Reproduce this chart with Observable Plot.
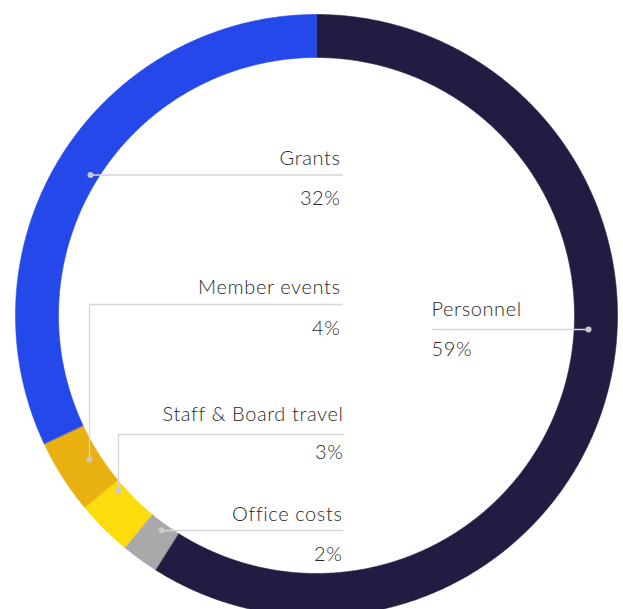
<!DOCTYPE html>
<html><head><meta charset="utf-8">
<script src="https://cdn.jsdelivr.net/npm/d3@7"></script>
<script src="https://cdn.jsdelivr.net/npm/@observablehq/plot@0.6"></script>
<style>
body{margin:0;background:#fff}
svg{display:block}
</style>
</head><body><div id="chart"></div>
<script>
// ---- data ----
const categories = ["Personnel", "Office costs", "Staff & Board travel", "Member events", "Grants"];
const shares = [59, 2, 3, 4, 32];
const pctLabels = ["59%", "2%", "3%", "4%", "32%"];
const colors = ["#211d42", "#a9a9a9", "#fddc0b", "#e9b011", "#2448e9"];

// ---- layout (pixel positions in the 623x609 frame) ----
const CX = 316, CY = 315, R_OUT = 301, R_IN = 258;
const layout = {
  "Personnel":            {anchor: "start", textX: 431, nameY: 315, pctY: 355, path: [[432, 329], [588, 329]], dot: [588, 329]},
  "Office costs":         {anchor: "end",   textX: 342, nameY: 520, pctY: 560, path: [[342, 530], [161, 530]], dot: [161, 530]},
  "Staff & Board travel": {anchor: "end",   textX: 343, nameY: 420, pctY: 458, path: [[343, 434], [118, 434], [118, 490]], dot: [118, 490]},
  "Member events":        {anchor: "end",   textX: 340, nameY: 293, pctY: 334, path: [[342, 304], [89, 304], [89, 459]], dot: [89, 459]},
  "Grants":               {anchor: "end",   textX: 340, nameY: 164, pctY: 204, path: [[342, 174.5], [90, 174.5]], dot: [90, 174.5]}
};

// ---- build ring polygons from the shares ----
const pie = d3.pie().sort(null).value(d => d)(shares);
const ringPts = [];
pie.forEach((s, i) => {
  const n = Math.max(4, Math.ceil((s.endAngle - s.startAngle) / 0.005));
  const outer = d3.range(n + 1).map(k => s.startAngle + (s.endAngle - s.startAngle) * k / n);
  const pts = outer.map(a => [R_OUT * Math.sin(a), -R_OUT * Math.cos(a)])
    .concat(outer.slice().reverse().map(a => [R_IN * Math.sin(a), -R_IN * Math.cos(a)]));
  pts.forEach(([x, y]) => ringPts.push({name: categories[i], x, y}));
});

const rel = ([px, py]) => ({x: px - CX, y: py - CY});
const leaderPts = [];
const dots = [];
const names = [];
const pcts = [];
categories.forEach((c, i) => {
  const L = layout[c];
  L.path.forEach(p => leaderPts.push({name: c, ...rel(p)}));
  dots.push({name: c, ...rel(L.dot)});
  names.push({text: c, anchor: L.anchor, x: L.textX - CX, y: L.nameY - CY});
  pcts.push({text: pctLabels[i], anchor: L.anchor, x: L.textX - CX, y: L.pctY - CY});
});

const textStyle = {fontSize: 20, fill: "#2a2a2a", lineAnchor: "bottom", fontWeight: 300};

const chart = Plot.plot({
  width: 623,
  height: 609,
  margin: 0,
  x: {domain: [-R_OUT, R_OUT], range: [CX - R_OUT, CX + R_OUT], axis: null},
  y: {domain: [-R_OUT, R_OUT], range: [CY - R_OUT, CY + R_OUT], axis: null},
  color: {domain: categories, range: colors},
  style: {fontFamily: "Lato, sans-serif", background: "#fff", overflow: "hidden"},
  marks: [
    ...categories.map((c, i) => Plot.line(ringPts.filter(d => d.name === c), {
      x: "x", y: "y", fill: colors[i], stroke: colors[i], strokeWidth: 0.6, curve: "linear-closed"
    })),
    Plot.line(leaderPts, {x: "x", y: "y", z: "name", stroke: "#d6d6d6", strokeWidth: 1.3}),
    Plot.dot(dots, {x: "x", y: "y", r: 3, fill: "#c9c9c9", stroke: "none"}),
    Plot.text(names.filter(d => d.anchor === "end"), {x: "x", y: "y", text: "text", textAnchor: "end", ...textStyle}),
    Plot.text(names.filter(d => d.anchor === "start"), {x: "x", y: "y", text: "text", textAnchor: "start", ...textStyle}),
    Plot.text(pcts.filter(d => d.anchor === "end"), {x: "x", y: "y", text: "text", textAnchor: "end", ...textStyle}),
    Plot.text(pcts.filter(d => d.anchor === "start"), {x: "x", y: "y", text: "text", textAnchor: "start", ...textStyle})
  ]
});
chart.querySelectorAll("text").forEach(t => t.style.letterSpacing = "0.6px");
document.getElementById("chart").appendChild(chart);
</script>
</body></html>
